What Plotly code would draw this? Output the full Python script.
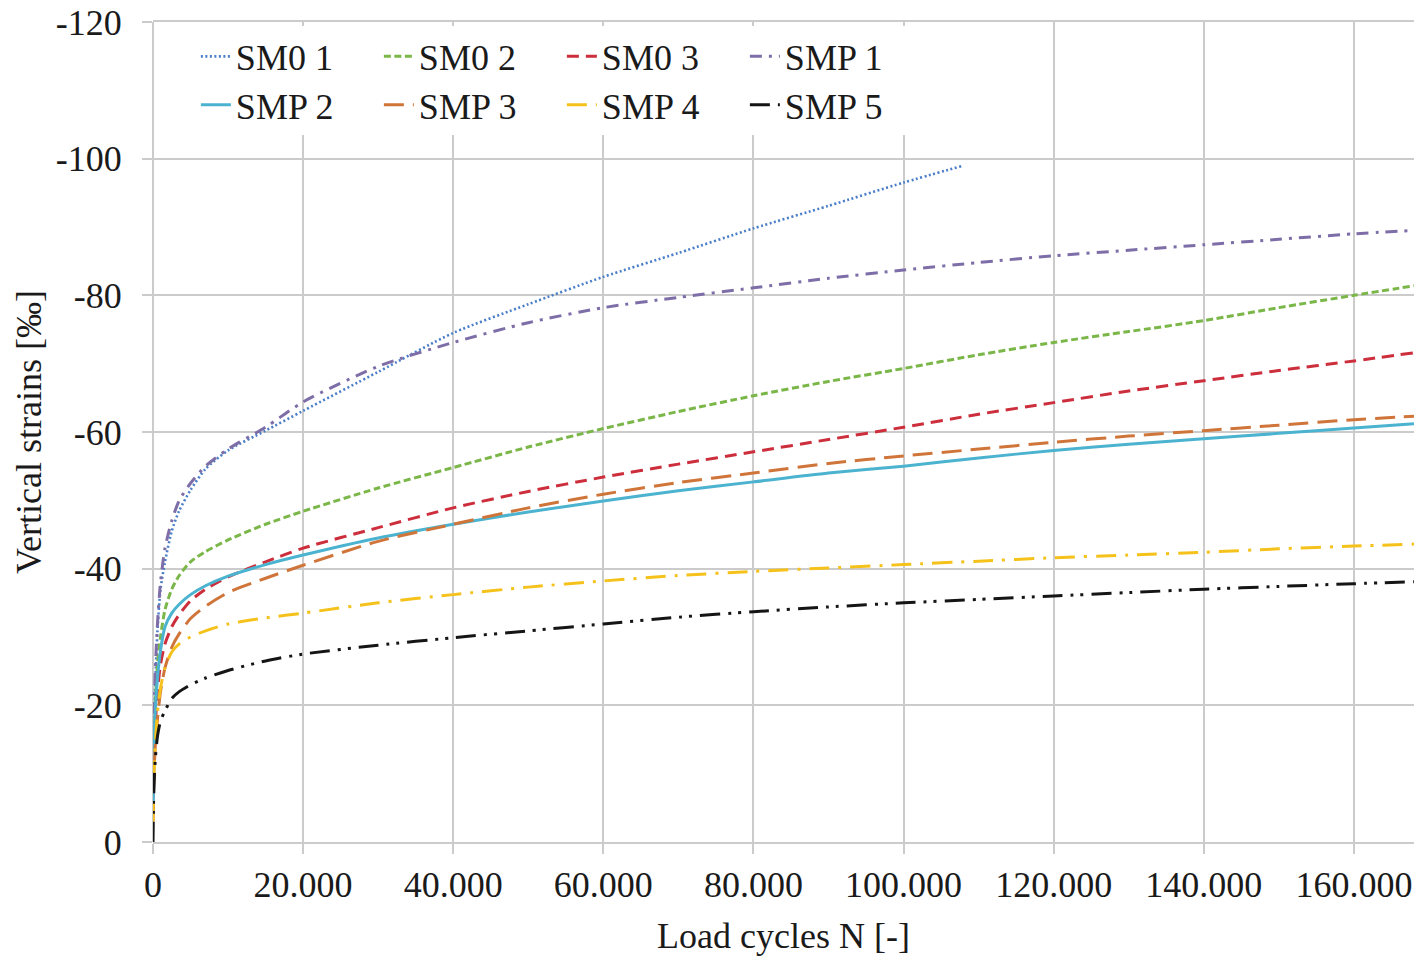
import plotly.graph_objects as go

# ---- data ----
cycles = [0, 100, 300, 600, 1000, 1600, 2500, 3500, 5000, 7000, 10000, 15000, 20000,
          30000, 40000, 50000, 60000, 70000, 80000, 90000, 100000, 110000, 120000,
          130000, 140000, 150000, 160000, 168000]

cycles_sm01 = [0, 100, 300, 600, 1000, 1600, 2500, 3500, 5000, 7000, 10000, 15000, 20000,
               30000, 40000, 50000, 60000, 70000, 80000, 90000, 100000, 108000]

sm0_1 = [-5, -14, -23, -31, -37, -41, -45.5, -48.5, -51.5, -54.6, -57.3, -60.2, -63.1,
         -68.8, -74.5, -78.7, -82.7, -86.2, -89.8, -93.1, -96.5, -99.0]

sm0_2 = [-5, -13, -20, -26, -30, -34, -37, -39, -41.0, -42.5, -44.2, -46.5, -48.4,
         -51.8, -54.8, -57.8, -60.5, -63.0, -65.3, -67.4, -69.3, -71.3, -73.1,
         -74.7, -76.3, -78.2, -80, -81.4]

sm0_3 = [-4, -11, -17, -22, -26, -29, -31.5, -33.3, -35.3, -37, -38.8, -41.0, -43,
         -46, -48.9, -51.3, -53.4, -55.3, -57.1, -58.9, -60.7, -62.6, -64.3,
         -66, -67.5, -69, -70.4, -71.6]

smp_1 = [-6, -16, -25, -32, -38, -43, -47, -50, -52.5, -55, -57.5, -60.7, -64.4,
         -69.6, -73.1, -76.0, -78.2, -79.7, -81.1, -82.5, -83.7, -84.8, -85.8,
         -86.6, -87.4, -88.2, -89, -89.5]

smp_2 = [-4, -12, -19, -24, -28, -31.5, -33.5, -34.8, -36.2, -37.5, -38.9, -40.6, -42,
         -44.5, -46.5, -48.3, -49.9, -51.4, -52.7, -54, -55, -56.2, -57.3,
         -58.2, -59, -59.8, -60.6, -61.2]

smp_3 = [-3, -9, -14, -18, -22, -25.5, -28.5, -30.5, -32.7, -34.5, -36.5, -38.6, -40.5,
         -44, -46.5, -48.9, -50.9, -52.6, -54, -55.4, -56.5, -57.5, -58.5,
         -59.4, -60.2, -61, -61.8, -62.3]

smp_4 = [-3, -9, -14, -19, -22.5, -25.5, -27.8, -29, -30.0, -30.9, -31.9, -32.8, -33.5,
         -35, -36.2, -37.3, -38.2, -39, -39.6, -40.1, -40.6, -41.1, -41.6,
         -42, -42.4, -42.9, -43.3, -43.6]

smp_5 = [0, -7, -12, -15.5, -17.7, -19.2, -21, -22, -23, -24, -25.1, -26.5, -27.5,
         -28.8, -29.9, -30.9, -31.9, -32.9, -33.7, -34.4, -35.0, -35.5, -36,
         -36.5, -37, -37.4, -37.8, -38.1]

series_names = ["SM0 1", "SM0 2", "SM0 3", "SMP 1", "SMP 2", "SMP 3", "SMP 4", "SMP 5"]
y_tick_vals = [0, -20, -40, -60, -80, -100, -120]
y_tick_text = ["0", "-20", "-40", "-60", "-80", "-100", "-120"]
x_tick_vals = [0, 20000, 40000, 60000, 80000, 100000, 120000, 140000, 160000]
x_tick_text = ["0", "20.000", "40.000", "60.000", "80.000", "100.000", "120.000",
               "140.000", "160.000"]

# ---- styling ----
FONT = "Liberation Serif, Times New Roman, serif"
TXT = "#1a1a1a"
GRID = "#cbcbcb"
styles = [
    dict(color="#4A7EC8", width=2.6, dash="2px,2.5px"),
    dict(color="#7AB648", width=3, dash="7px,3.5px"),
    dict(color="#CC2E3C", width=3, dash="12px,7px"),
    dict(color="#7E6EA8", width=3, dash="12px,7px,3px,7px"),
    dict(color="#4BB3CF", width=3, dash="solid"),
    dict(color="#D0753A", width=3, dash="20px,9px"),
    dict(color="#F5C21B", width=3, dash="20px,9px,3px,9px"),
    dict(color="#151515", width=3, dash="20px,8px,3px,7px,3px,8px"),
]

xs = [cycles_sm01] + [cycles] * 7
ys = [sm0_1, sm0_2, sm0_3, smp_1, smp_2, smp_3, smp_4, smp_5]

fig = go.Figure()
for i, (name, x, y, st) in enumerate(zip(series_names, xs, ys, styles)):
    fig.add_trace(go.Scatter(
        x=x, y=y, name=name, mode="lines",
        line=dict(color=st["color"], width=st["width"], dash=st["dash"],
                  shape="spline", smoothing=0.7),
        legend="legend" if i < 4 else "legend2",
    ))

legend_common = dict(
    orientation="h",
    bgcolor="white",
    borderwidth=0,
    font=dict(family=FONT, size=36, color=TXT),
    entrywidth=138,
    entrywidthmode="pixels",
    xanchor="left",
    yanchor="middle",
    x=0.034,
    traceorder="normal",
)

fig.update_layout(
    width=1414, height=956,
    margin=dict(l=153, r=0, t=22, b=114, autoexpand=False),
    paper_bgcolor="white",
    plot_bgcolor="white",
    font=dict(family=FONT, size=36, color=TXT),
    showlegend=True,
    legend=dict(legend_common, y=0.958),
    legend2=dict(legend_common, y=0.899),
    xaxis=dict(
        range=[0, 168000],
        automargin=False,
        tickvals=x_tick_vals, ticktext=x_tick_text,
        showgrid=True, gridcolor=GRID, gridwidth=1.5,
        zeroline=True, zerolinecolor=GRID, zerolinewidth=1.5,
        showline=True, linecolor=GRID, linewidth=1.5, mirror=True,
        ticks="outside", ticklen=10, tickcolor=GRID, tickwidth=1.5,
        ticklabelstandoff=0,
        tickfont=dict(family=FONT, size=36, color=TXT),
        title=dict(text="Load cycles N [-]", standoff=20,
                   font=dict(family=FONT, size=36, color=TXT)),
    ),
    yaxis=dict(
        range=[0, -120],
        automargin=False,
        tickvals=y_tick_vals, ticktext=y_tick_text,
        showgrid=True, gridcolor=GRID, gridwidth=1.5,
        zeroline=False,
        showline=False,
        ticks="outside", ticklen=10, tickcolor=GRID, tickwidth=1.5,
        ticklabelstandoff=13,
        ticklabeloverflow="allow",
        tickfont=dict(family=FONT, size=36, color=TXT),
        title=dict(text="Vertical strains [‰]", standoff=3,
                   font=dict(family=FONT, size=36, color=TXT)),
    ),
)

# remove the default 8px page margin so the figure fills the window exactly
fig.write_html("out.html",
               config={"displayModeBar": False},
               post_script="document.body.style.margin='0';")
